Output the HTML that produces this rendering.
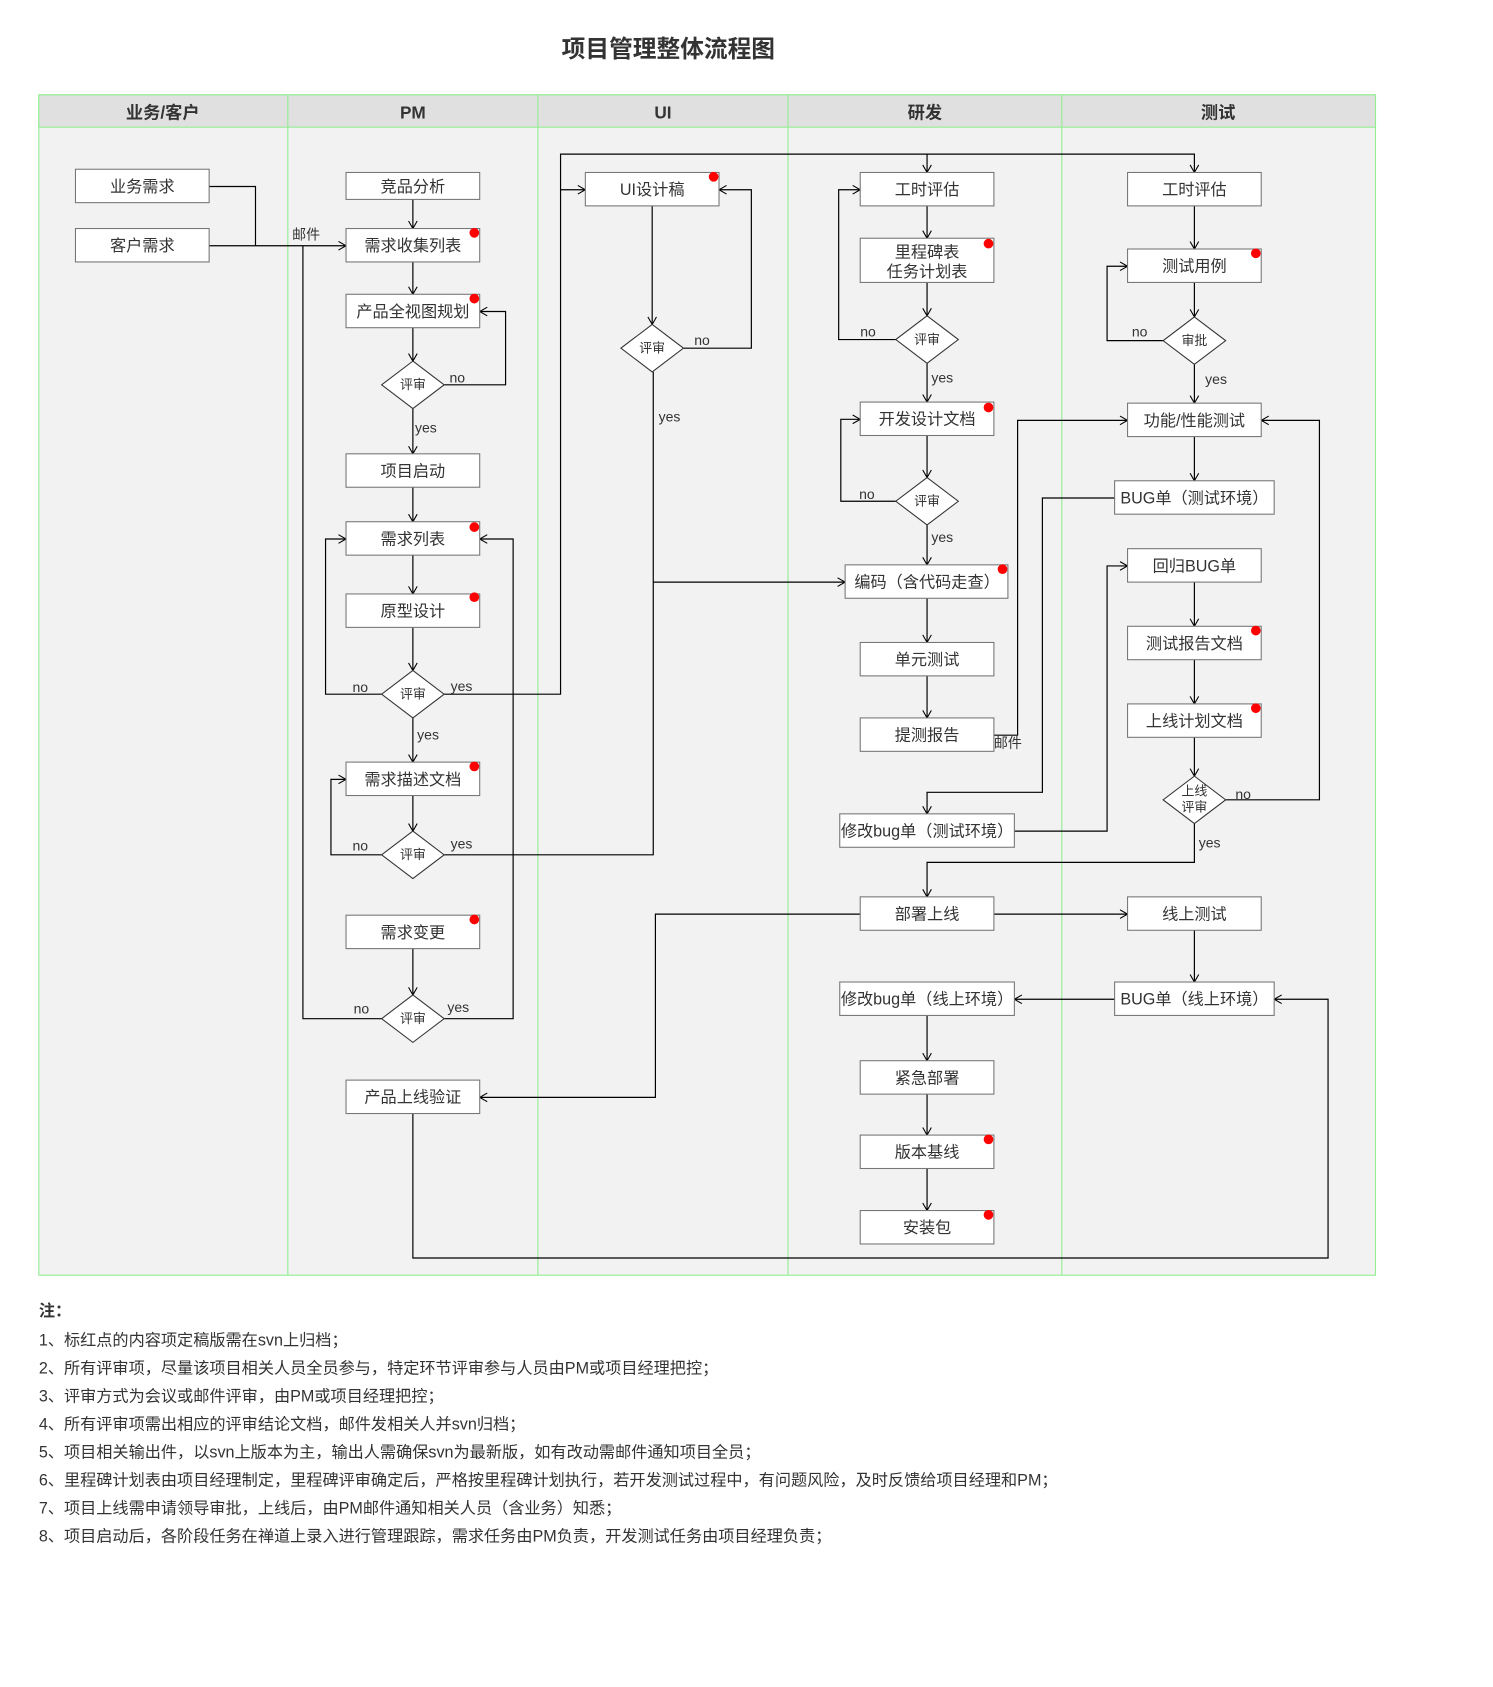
<!DOCTYPE html>
<html><head><meta charset="utf-8"><style>
html,body{margin:0;padding:0;background:#fff}
svg{display:block}
text{font-family:"Liberation Sans","Noto Sans CJK SC",sans-serif;fill:#333}
</style></head><body>
<svg width="1493" height="1687" viewBox="0 0 1385 1565" xmlns="http://www.w3.org/2000/svg">
<defs>
<marker id="a" markerWidth="10" markerHeight="10" refX="8" refY="5" orient="auto" markerUnits="userSpaceOnUse">
<path d="M1,1 L8,5 L1,9" fill="none" stroke="#000" stroke-width="1"/></marker>
</defs>
<text x="620" y="53" text-anchor="middle" font-size="22" font-weight="bold">项目管理整体流程图</text>
<rect x="36" y="88" width="1240" height="1095" fill="#f2f2f2" stroke="#90ee90"/>
<rect x="36" y="88" width="1240" height="30" fill="#e0e0e0" stroke="#90ee90"/>
<g stroke="#90ee90" stroke-width="1">
<line x1="267" y1="88" x2="267" y2="1183"/><line x1="499" y1="88" x2="499" y2="1183"/>
<line x1="731" y1="88" x2="731" y2="1183"/><line x1="985" y1="88" x2="985" y2="1183"/></g>
<g font-size="16" font-weight="bold" text-anchor="middle">
<text x="151" y="110">业务/客户</text><text x="383" y="110">PM</text><text x="615" y="110">UI</text>
<text x="858" y="110">研发</text><text x="1130" y="110">测试</text></g>

<g fill="none" stroke="#000" stroke-width="1.1">
<polyline points="194,173 237,173 237,228"/>
<polyline points="194,228 321,228" marker-end="url(#a)"/>
<polyline points="354,945 281,945 281,228"/>
<line x1="383" y1="185" x2="383" y2="212" marker-end="url(#a)"/>
<line x1="383" y1="243" x2="383" y2="273" marker-end="url(#a)"/>
<line x1="383" y1="304" x2="383" y2="335" marker-end="url(#a)"/>
<polyline points="412,357 469,357 469,289 445,289" marker-end="url(#a)"/>
<line x1="383" y1="379" x2="383" y2="421" marker-end="url(#a)"/>
<line x1="383" y1="452" x2="383" y2="484" marker-end="url(#a)"/>
<line x1="383" y1="515" x2="383" y2="551" marker-end="url(#a)"/>
<line x1="383" y1="582" x2="383" y2="622" marker-end="url(#a)"/>
<polyline points="354,644 302,644 302,500 321,500" marker-end="url(#a)"/>
<polyline points="412,644 520,644 520,143 1108,143 1108,160" marker-end="url(#a)"/>
<polyline points="860,143 860,160" marker-end="url(#a)"/>
<polyline points="520,176 543,176" marker-end="url(#a)"/>
<line x1="383" y1="666" x2="383" y2="707" marker-end="url(#a)"/>
<line x1="383" y1="738" x2="383" y2="771" marker-end="url(#a)"/>
<polyline points="354,793 307,793 307,723 321,723" marker-end="url(#a)"/>
<polyline points="412,793 606,793 606,345"/>
<polyline points="606,540 784,540" marker-end="url(#a)"/>
<line x1="383" y1="880" x2="383" y2="923" marker-end="url(#a)"/>
<polyline points="412,945 476,945 476,500 445,500" marker-end="url(#a)"/>
<line x1="605" y1="191" x2="605" y2="301" marker-end="url(#a)"/>
<polyline points="634,323 697,323 697,176 667,176" marker-end="url(#a)"/>
<line x1="860" y1="191" x2="860" y2="221" marker-end="url(#a)"/>
<line x1="860" y1="262" x2="860" y2="293" marker-end="url(#a)"/>
<polyline points="831,315 778,315 778,176 798,176" marker-end="url(#a)"/>
<line x1="860" y1="337" x2="860" y2="373" marker-end="url(#a)"/>
<line x1="860" y1="404" x2="860" y2="443" marker-end="url(#a)"/>
<polyline points="831,465 780,465 780,389 798,389" marker-end="url(#a)"/>
<line x1="860" y1="487" x2="860" y2="524" marker-end="url(#a)"/>
<line x1="860" y1="555" x2="860" y2="596" marker-end="url(#a)"/>
<line x1="860" y1="627" x2="860" y2="666" marker-end="url(#a)"/>
<polyline points="922,682 944,682 944,390 1046,390" marker-end="url(#a)"/>
<line x1="1108" y1="191" x2="1108" y2="231" marker-end="url(#a)"/>
<line x1="1108" y1="262" x2="1108" y2="294" marker-end="url(#a)"/>
<polyline points="1079,316 1027,316 1027,247 1046,247" marker-end="url(#a)"/>
<line x1="1108" y1="338" x2="1108" y2="374" marker-end="url(#a)"/>
<line x1="1108" y1="405" x2="1108" y2="446" marker-end="url(#a)"/>
<polyline points="1034,462 967,462 967,735 860,735 860,755" marker-end="url(#a)"/>
<polyline points="941,771 1027,771 1027,525 1046,525" marker-end="url(#a)"/>
<line x1="1108" y1="540" x2="1108" y2="581" marker-end="url(#a)"/>
<line x1="1108" y1="612" x2="1108" y2="653" marker-end="url(#a)"/>
<line x1="1108" y1="684" x2="1108" y2="720" marker-end="url(#a)"/>
<polyline points="1137,742 1224,742 1224,390 1170,390" marker-end="url(#a)"/>
<polyline points="1108,764 1108,800 860,800 860,832" marker-end="url(#a)"/>
<polyline points="922,848 1046,848" marker-end="url(#a)"/>
<polyline points="798,848 608,848 608,1018 445,1018" marker-end="url(#a)"/>
<line x1="1108" y1="863" x2="1108" y2="911" marker-end="url(#a)"/>
<polyline points="1034,927 941,927" marker-end="url(#a)"/>
<line x1="860" y1="942" x2="860" y2="984" marker-end="url(#a)"/>
<line x1="860" y1="1015" x2="860" y2="1053" marker-end="url(#a)"/>
<line x1="860" y1="1084" x2="860" y2="1123" marker-end="url(#a)"/>
<polyline points="383,1033 383,1167 1232,1167 1232,927 1182,927" marker-end="url(#a)"/>
</g>

<g fill="#fff" stroke="#777" stroke-width="1">
<rect x="70" y="157" width="124" height="31"/><rect x="70" y="212" width="124" height="31"/>
<rect x="321" y="160" width="124" height="25"/><rect x="321" y="212" width="124" height="31"/>
<rect x="321" y="273" width="124" height="31"/><rect x="321" y="421" width="124" height="31"/>
<rect x="321" y="484" width="124" height="31"/><rect x="321" y="551" width="124" height="31"/>
<rect x="321" y="707" width="124" height="31"/><rect x="321" y="849" width="124" height="31"/>
<rect x="321" y="1002" width="124" height="31"/>
<rect x="543" y="160" width="124" height="31"/>
<rect x="798" y="160" width="124" height="31"/><rect x="798" y="221" width="124" height="41"/>
<rect x="798" y="373" width="124" height="31"/><rect x="784" y="524" width="151" height="31"/>
<rect x="798" y="596" width="124" height="31"/><rect x="798" y="666" width="124" height="31"/>
<rect x="779" y="755" width="162" height="31"/><rect x="798" y="832" width="124" height="31"/>
<rect x="779" y="911" width="162" height="31"/><rect x="798" y="984" width="124" height="31"/>
<rect x="798" y="1053" width="124" height="31"/><rect x="798" y="1123" width="124" height="31"/>
<rect x="1046" y="160" width="124" height="31"/><rect x="1046" y="231" width="124" height="31"/>
<rect x="1046" y="374" width="124" height="31"/><rect x="1034" y="446" width="148" height="31"/>
<rect x="1046" y="509" width="124" height="31"/><rect x="1046" y="581" width="124" height="31"/>
<rect x="1046" y="653" width="124" height="31"/><rect x="1046" y="832" width="124" height="31"/>
<rect x="1034" y="911" width="148" height="31"/>
</g>
<g fill="#fff" stroke="#333" stroke-width="1">
<polygon points="383,335 412,357 383,379 354,357"/>
<polygon points="383,622 412,644 383,666 354,644"/>
<polygon points="383,771 412,793 383,815 354,793"/>
<polygon points="383,923 412,945 383,967 354,945"/>
<polygon points="605,301 634,323 605,345 576,323"/>
<polygon points="860,293 889,315 860,337 831,315"/>
<polygon points="860,443 889,465 860,487 831,465"/>
<polygon points="1108,294 1137,316 1108,338 1079,316"/>
<polygon points="1108,720 1137,742 1108,764 1079,742"/>
</g>
<g fill="#f00">
<circle cx="440" cy="216" r="4.5"/><circle cx="440" cy="277" r="4.5"/><circle cx="440" cy="489" r="4.5"/>
<circle cx="440" cy="554" r="4.5"/><circle cx="440" cy="711" r="4.5"/><circle cx="440" cy="853" r="4.5"/>
<circle cx="662" cy="164" r="4.5"/><circle cx="917" cy="226" r="4.5"/><circle cx="917" cy="378" r="4.5"/>
<circle cx="930" cy="528" r="4.5"/><circle cx="1165" cy="235" r="4.5"/><circle cx="1165" cy="585" r="4.5"/>
<circle cx="1165" cy="657" r="4.5"/><circle cx="917" cy="1057" r="4.5"/><circle cx="917" cy="1127" r="4.5"/>
</g>
<g font-size="15" text-anchor="middle">
<text x="132" y="178">业务需求</text><text x="132" y="233">客户需求</text>
<text x="383" y="178">竞品分析</text><text x="383" y="233">需求收集列表</text>
<text x="383" y="294">产品全视图规划</text><text x="383" y="442">项目启动</text>
<text x="383" y="505">需求列表</text><text x="383" y="572">原型设计</text>
<text x="383" y="728">需求描述文档</text><text x="383" y="870">需求变更</text>
<text x="383" y="1023">产品上线验证</text>
<text x="605" y="181">UI设计稿</text>
<text x="860" y="181">工时评估</text><text x="860" y="239">里程碑表</text><text x="860" y="257">任务计划表</text>
<text x="860" y="394">开发设计文档</text><text x="860" y="545">编码（含代码走查）</text>
<text x="860" y="617">单元测试</text><text x="860" y="687">提测报告</text>
<text x="860" y="776">修改bug单（测试环境）</text><text x="860" y="853">部署上线</text>
<text x="860" y="932">修改bug单（线上环境）</text><text x="860" y="1005">紧急部署</text>
<text x="860" y="1074">版本基线</text><text x="860" y="1144">安装包</text>
<text x="1108" y="181">工时评估</text><text x="1108" y="252">测试用例</text>
<text x="1108" y="395">功能/性能测试</text><text x="1108" y="467">BUG单（测试环境）</text>
<text x="1108" y="530">回归BUG单</text><text x="1108" y="602">测试报告文档</text>
<text x="1108" y="674">上线计划文档</text><text x="1108" y="853">线上测试</text>
<text x="1108" y="932">BUG单（线上环境）</text>
</g>
<g font-size="12" text-anchor="middle">
<text x="383" y="361">评审</text><text x="383" y="648">评审</text><text x="383" y="797">评审</text>
<text x="383" y="949">评审</text><text x="605" y="327">评审</text><text x="860" y="319">评审</text>
<text x="860" y="469">评审</text><text x="1108" y="320">审批</text>
<text x="1108" y="738">上线</text><text x="1108" y="753">评审</text>
</g>
<g font-size="13">
<text x="271" y="222">邮件</text><text x="922" y="694">邮件</text>
<text x="417" y="355">no</text><text x="385" y="401">yes</text>
<text x="327" y="642">no</text><text x="418" y="641">yes</text><text x="387" y="686">yes</text>
<text x="327" y="789">no</text><text x="418" y="787">yes</text>
<text x="328" y="940">no</text><text x="415" y="939">yes</text>
<text x="644" y="320">no</text><text x="611" y="391">yes</text>
<text x="798" y="312">no</text><text x="864" y="355">yes</text>
<text x="797" y="463">no</text><text x="864" y="503">yes</text>
<text x="1050" y="312">no</text><text x="1118" y="356">yes</text>
<text x="1146" y="741">no</text><text x="1112" y="786">yes</text>
</g>
<g font-size="15">
<text x="36" y="1221" font-weight="bold">注：</text>
<text x="36" y="1248">1、标红点的内容项定稿版需在svn上归档；</text>
<text x="36" y="1274">2、所有评审项，尽量该项目相关人员全员参与，特定环节评审参与人员由PM或项目经理把控；</text>
<text x="36" y="1300">3、评审方式为会议或邮件评审，由PM或项目经理把控；</text>
<text x="36" y="1326">4、所有评审项需出相应的评审结论文档，邮件发相关人并svn归档；</text>
<text x="36" y="1352">5、项目相关输出件，以svn上版本为主，输出人需确保svn为最新版，如有改动需邮件通知项目全员；</text>
<text x="36" y="1378">6、里程碑计划表由项目经理制定，里程碑评审确定后，严格按里程碑计划执行，若开发测试过程中，有问题风险，及时反馈给项目经理和PM；</text>
<text x="36" y="1404">7、项目上线需申请领导审批，上线后，由PM邮件通知相关人员（含业务）知悉；</text>
<text x="36" y="1430">8、项目启动后，各阶段任务在禅道上录入进行管理跟踪，需求任务由PM负责，开发测试任务由项目经理负责；</text>
</g>
</svg>
</body></html>
